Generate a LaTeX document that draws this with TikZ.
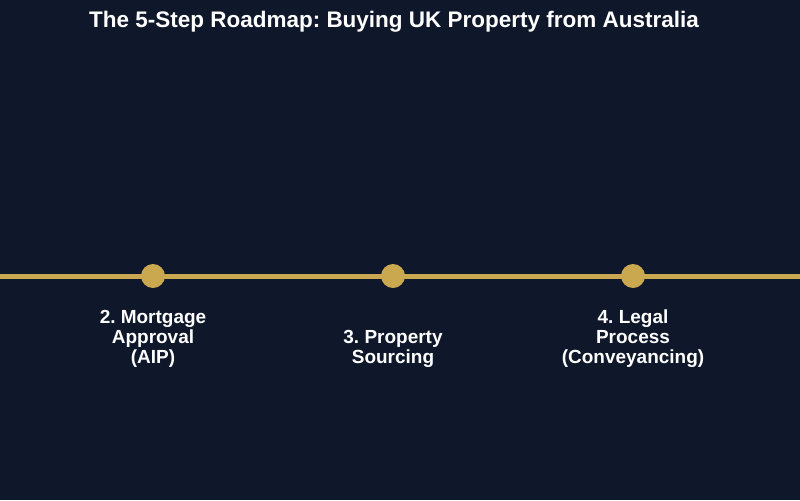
\documentclass[tikz,border=0pt]{standalone}
\usepackage{fontspec}
\setmainfont{Liberation Sans}
\frenchspacing
\definecolor{bgnavy}{HTML}{0F172A}
\definecolor{gold}{HTML}{C9A84F}
\begin{document}
\begin{tikzpicture}[x=0.02cm,y=-0.02cm,
  stepdot/.style={circle,fill=gold,minimum size=24*0.02cm,inner sep=0pt},
  steplabel/.style={text=white,font=\fontsize{10.8pt}{11.34pt}\selectfont\bfseries,align=center,anchor=north},
  titletext/.style={text=white,font=\fontsize{12.8pt}{14pt}\selectfont\bfseries}]
\fill[bgnavy] (0,0) rectangle (800,500);
\useasboundingbox (0,0) rectangle (800,500);
\node[titletext] (title) at (394,22) {The 5-Step Roadmap: Buying UK Property from Australia};
\coordinate (lstart) at (0,276);
\coordinate (lend) at (800,276);
\draw[gold,line width=5*0.02cm] (lstart) -- (lend);
\node[stepdot] (d2) at (153,276) {};
\node[stepdot] (d3) at (393,276) {};
\node[stepdot] (d4) at (633,276) {};
\node[steplabel] (l2) at (153,304) {2. Mortgage\\Approval\\(AIP)};
\node[steplabel] (l3) at (393,324) {3. Property\\Sourcing};
\node[steplabel] (l4) at (633,304) {4. Legal\\Process\\(Conveyancing)};
\end{tikzpicture}
\end{document}
